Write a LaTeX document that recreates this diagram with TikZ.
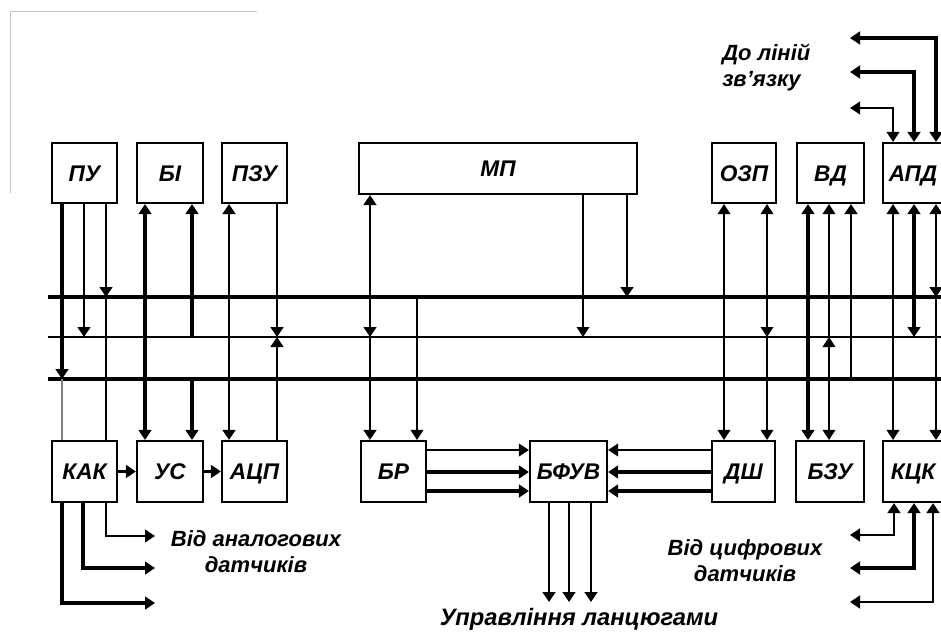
\documentclass[tikz,border=0pt]{standalone}
\usepackage{fontspec}
\setmainfont{Liberation Sans}
\usetikzlibrary{arrows.meta}
\begin{document}
\begin{tikzpicture}[x=0.75pt,y=-0.75pt,
  >={Triangle[width=9.5pt,length=7.5pt]},
  box/.style={draw,line width=1.6pt,inner sep=0pt,text height=12.2pt,text depth=0pt,font=\fontsize{17}{19}\selectfont\bfseries\itshape},
  bx/.style 2 args={minimum width=#1*0.75pt,minimum height=#2*0.75pt},
  lbl/.style={inner sep=0pt,font=\fontsize{16.5}{19.5}\selectfont\bfseries\itshape},
  lnT/.style={line width=1.1pt},
  lnM/.style={line width=1.9pt},
  lnK/.style={line width=3pt},
  frame/.style={draw=gray!45,line width=0.7pt}]
\useasboundingbox (0,0) rectangle (941,632);
% faint frame (screen artefact)
\draw[frame] (257,11) -- (10,11) -- (10,193);

% buses
\coordinate (bT) at (0,297);
\coordinate (bM) at (0,337);
\coordinate (bB) at (0,379);
\draw[lnK] (48,0 |- bT) -- (941,0 |- bT);
\draw[lnT] (48,0 |- bM) -- (941,0 |- bM);
\draw[lnK] (48,0 |- bB) -- (941,0 |- bB);

% top row
\node[box,bx={65}{60}] (PU) at (84.5,173) {ПУ};
\node[box,bx={66}{60}] (BI) at (170,173) {БІ};
\node[box,bx={65}{60}] (PZU) at (254.5,173) {ПЗУ};
\node[box,bx={278}{51}] (MP) at (498,168.5) {МП};
\node[box,bx={64}{60}] (OZP) at (744,173) {ОЗП};
\node[box,bx={67}{60}] (VD) at (830.5,173) {ВД};
\node[box,bx={60}{60}] (APD) at (913,173) {АПД};
% bottom row
\node[box,bx={65}{61}] (KAK) at (84.5,471.5) {КАК};
\node[box,bx={66}{61}] (US) at (170,471.5) {УС};
\node[box,bx={65}{61}] (ACP) at (254.5,471.5) {АЦП};
\node[box,bx={65}{61}] (BR) at (393.5,471.5) {БР};
\node[box,bx={77}{61}] (BFUV) at (568.5,471.5) {БФУВ};
\node[box,bx={63}{61}] (DSH) at (743.5,471.5) {ДШ};
\node[box,bx={68}{61}] (BZU) at (830,471.5) {БЗУ};
\node[box,bx={60}{61}] (KCK) at (913,471.5) {КЦК};

% ПУ
\draw[lnK,->] (62,0 |- PU.south) -- (62,0 |- bB);
\draw[lnT,gray] (62,0 |- bB) -- (62,0 |- KAK.north);
\draw[lnM,->] (84,0 |- PU.south) -- (84,0 |- bM);
\draw[lnM,->] (106,0 |- PU.south) -- (106,0 |- bT);
\draw[lnM] (106,0 |- bT) -- (106,0 |- KAK.north);
% БІ
\draw[lnK,<->] (145,0 |- BI.south) -- (145,0 |- US.north);
\draw[lnK,->] (192,0 |- bM) -- (192,0 |- BI.south);
\draw[lnK,->] (192,0 |- bB) -- (192,0 |- US.north);
% ПЗУ
\draw[lnM,<->] (229,0 |- PZU.south) -- (229,0 |- ACP.north);
\draw[lnM,->] (277,0 |- PZU.south) -- (277,0 |- bM);
\draw[lnM,->] (277,0 |- ACP.north) -- (277,0 |- bM);
% МП
\draw[lnM,<->] (370,0 |- MP.south) -- (370,0 |- bM);
\draw[lnM,->] (370,0 |- bM) -- (370,0 |- BR.north);
\draw[lnT,->] (417,0 |- bT) -- (417,0 |- BR.north);
\draw[lnT,->] (583,0 |- MP.south) -- (583,0 |- bM);
\draw[lnM,->] (627,0 |- MP.south) -- (627,0 |- bT);
% ОЗП
\draw[lnT,<->] (724,0 |- OZP.south) -- (724,0 |- DSH.north);
\draw[lnT,<->] (767,0 |- OZP.south) -- (767,0 |- bM);
\draw[lnT,->] (767,0 |- bM) -- (767,0 |- DSH.north);
% ВД
\draw[lnK,<->] (808,0 |- VD.south) -- (808,0 |- BZU.north);
\draw[lnT,->] (829,0 |- bM) -- (829,0 |- VD.south);
\draw[lnT,<->] (829,0 |- bM) -- (829,0 |- BZU.north);
\draw[lnM,->] (851,0 |- bB) -- (851,0 |- VD.south);
% АПД
\draw[lnT,<->] (893,0 |- APD.south) -- (893,0 |- KCK.north);
\draw[lnK,<->] (914,0 |- APD.south) -- (914,0 |- bM);
\draw[lnM,<->] (936,0 |- APD.south) -- (936,0 |- bT);
\draw[lnM,->] (936,0 |- bT) -- (936,0 |- KCK.north);

% lines to communication links
\coordinate (o1) at (850,38);
\coordinate (o2) at (850,72);
\coordinate (o3) at (850,108);
\draw[lnK,<->] (o1) -| (936,0 |- APD.north);
\draw[lnK,<->] (o2) -| (914,0 |- APD.north);
\draw[lnT,<->] (o3) -| (893,0 |- APD.north);

% analog sensors
\coordinate (a1) at (155,536);
\coordinate (a2) at (155,568);
\coordinate (a3) at (155,603);
\draw[lnM,->] (106,0 |- KAK.south) |- (a1);
\draw[lnK,->] (83,0 |- KAK.south) |- (a2);
\draw[lnK,->] (62,0 |- KAK.south) |- (a3);

% digital sensors
\coordinate (d1) at (850,535);
\coordinate (d2) at (850,568);
\coordinate (d3) at (850,602);
\draw[lnM,<->] (894,0 |- KCK.south) |- (d1);
\draw[lnK,<->] (914,0 |- KCK.south) |- (d2);
\draw[lnM,<->] (933,0 |- KCK.south) |- (d3);

% horizontal links
\draw[lnM,->] (KAK.east) -- (US.west);
\draw[lnM,->] (US.east) -- (ACP.west);
\draw[lnT,->] (BR.east |- 0,450) -- (BFUV.west |- 0,450);
\draw[lnK,->] (BR.east |- 0,472) -- (BFUV.west |- 0,472);
\draw[lnK,->] (BR.east |- 0,491) -- (BFUV.west |- 0,491);
\draw[lnT,->] (DSH.west |- 0,450) -- (BFUV.east |- 0,450);
\draw[lnK,->] (DSH.west |- 0,472) -- (BFUV.east |- 0,472);
\draw[lnK,->] (DSH.west |- 0,491) -- (BFUV.east |- 0,491);

% control outputs
\coordinate (e1) at (549,602);
\coordinate (e2) at (569,602);
\coordinate (e3) at (591,602);
\draw[lnM,->] (e1 |- BFUV.south) -- (e1);
\draw[lnM,->] (e2 |- BFUV.south) -- (e2);
\draw[lnM,->] (e3 |- BFUV.south) -- (e3);

% labels
\node[lbl,align=left,anchor=west] (L1) at (722,68) {До ліній\\зв'язку};
\node[lbl,align=center] (L2) at (256,552) {Від аналогових\\датчиків};
\node[lbl,align=center] (L3) at (745,561) {Від цифрових\\датчиків};
\node[lbl,font=\fontsize{17.8}{20}\selectfont\bfseries\itshape] (L4) at (579,619) {Управління ланцюгами};
\end{tikzpicture}
\end{document}
